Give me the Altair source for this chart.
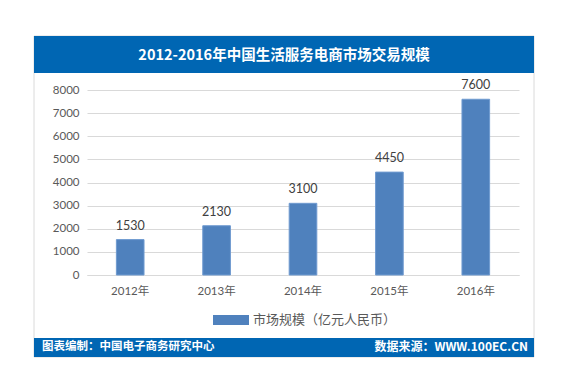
import altair as alt
import pandas as pd

years = ["2012年", "2013年", "2014年", "2015年", "2016年"]
values = [1530, 2130, 3100, 4450, 7600]
series_name = "市场规模（亿元人民币）"
title_text = "2012-2016年中国生活服务电商市场交易规模"
footer_left = "图表编制：中国电子商务研究中心"
footer_right = "数据来源：WWW.100EC.CN"
y_ticks = [0, 1000, 2000, 3000, 4000, 5000, 6000, 7000, 8000]

FONT = "Lato, Noto Sans CJK SC, sans-serif"
CJK = "Noto Sans CJK SC, sans-serif"
BAR = "#4F81BD"
BAND = "#0066B3"

df = pd.DataFrame({"year": years, "value": values, "series": series_name})

W, H = 432, 185

x = alt.X("year:N", sort=years, title=None,
          scale=alt.Scale(paddingInner=0.68, paddingOuter=0.34),
          axis=alt.Axis(labelAngle=0, labelFont=FONT, labelFontSize=11.5,
                        labelColor="#595959", labelPadding=10, ticks=False,
                        domain=True, domainColor="#D9D9D9"))
y = alt.Y("value:Q", title=None,
          scale=alt.Scale(domain=[0, 8000], nice=False),
          axis=alt.Axis(values=y_ticks, tickCount=9, format="d", labelOverlap=False,
                        labelFont=FONT, labelFontSize=11.5,
                        labelColor="#595959", labelPadding=8, ticks=False,
                        domain=False, grid=True, gridColor="#D9D9D9"))

# decorative frame
frame_df = pd.DataFrame({"k": [0]})
frame = alt.Chart(frame_df).mark_rect(filled=False, stroke="#DADADA", strokeWidth=1, clip=False).encode(
    x=alt.value(-53), x2=alt.value(447), y=alt.value(-54), y2=alt.value(267))
top_band = alt.Chart(frame_df).mark_rect(fill=BAND, clip=False).encode(
    x=alt.value(-53), x2=alt.value(447), y=alt.value(-54), y2=alt.value(-17))
bot_band = alt.Chart(frame_df).mark_rect(fill=BAND, clip=False).encode(
    x=alt.value(-53), x2=alt.value(447), y=alt.value(248), y2=alt.value(267))

title = alt.Chart(pd.DataFrame({"t": [title_text]})).mark_text(
    font=CJK, fontSize=14.5, fontWeight="bold", color="white", align="center",
    baseline="middle", clip=False).encode(
    x=alt.value(197), y=alt.value(-34), text="t:N")
fl = alt.Chart(pd.DataFrame({"t": [footer_left]})).mark_text(
    font=CJK, fontSize=11.5, fontWeight="bold", color="white", align="left",
    baseline="middle", clip=False).encode(
    x=alt.value(-45), y=alt.value(257), text="t:N")
fr = alt.Chart(pd.DataFrame({"t": [footer_right]})).mark_text(
    font=CJK, fontSize=12, fontWeight="bold", color="white", align="right",
    baseline="middle", clip=False).encode(
    x=alt.value(441), y=alt.value(257), text="t:N")

bars = alt.Chart(df).mark_bar(stroke="#6F9AD0", strokeWidth=1).encode(
    x=x, y=y,
    color=alt.Color("series:N", scale=alt.Scale(range=[BAR]), title=None,
                    legend=alt.Legend(orient="none", legendX=126, legendY=212,
                                      symbolType="M-1,-0.28L1,-0.28L1,0.28L-1,0.28Z",
                                      symbolSize=1296, symbolStrokeWidth=0,
                                      labelFont=CJK, labelFontSize=13,
                                      labelColor="#595959", labelOffset=4)))
labels = alt.Chart(df).mark_text(font=FONT, fontSize=12.5, color="#404040",
                                  baseline="bottom", dy=-7).encode(
    x=x, y=y, text="value:Q")

chart = alt.layer(frame, top_band, bot_band, title, fl, fr, bars, labels).properties(
    width=W, height=H,
    autosize=alt.AutoSizeParams(type="none"),
    padding={"left": 87, "top": 90, "right": 54, "bottom": 100},
    background="white",
).configure_view(stroke=None)

chart.save("out.html", embed_options={"renderer": "svg", "actions": False})
